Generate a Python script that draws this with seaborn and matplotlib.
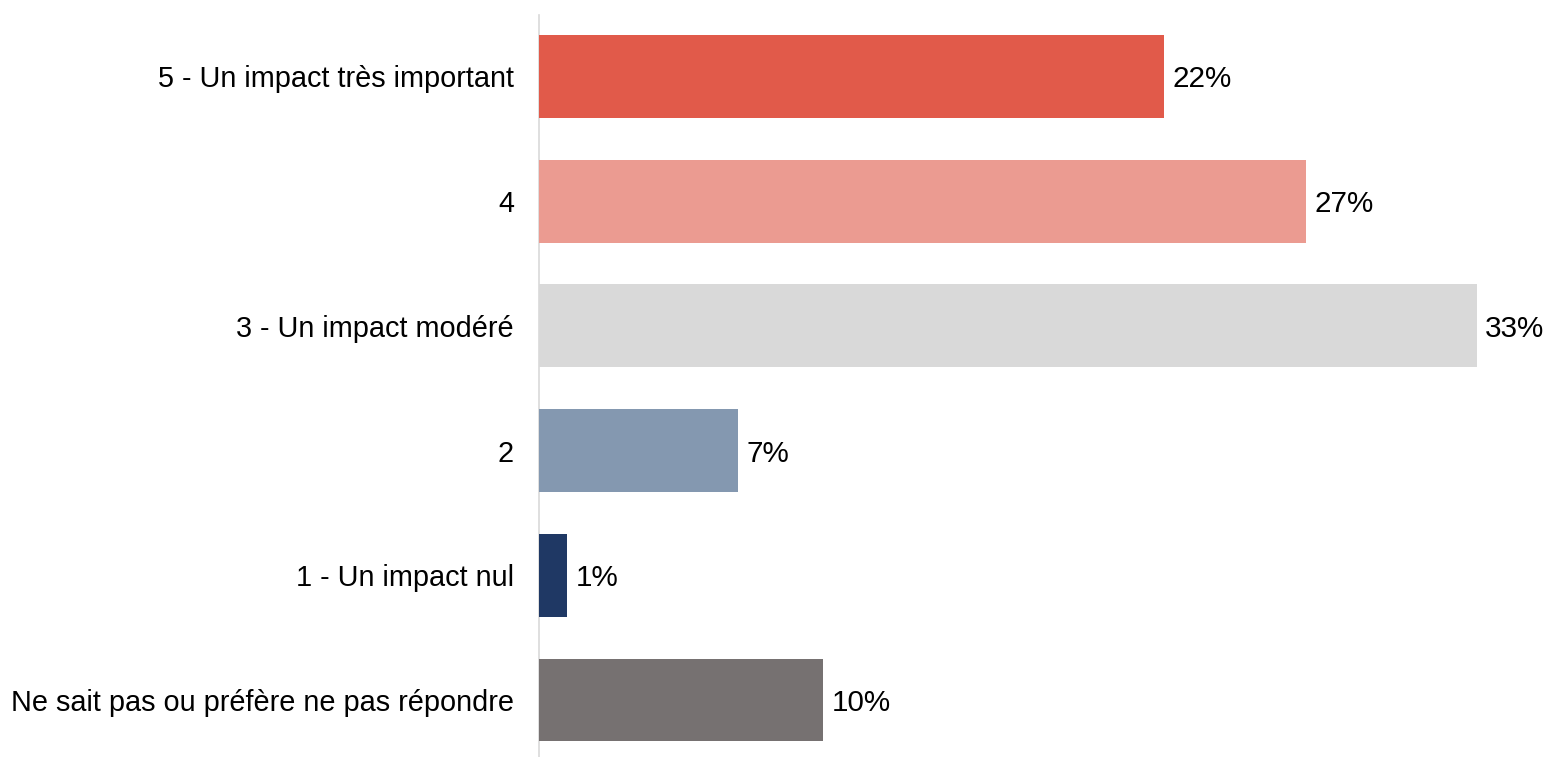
import matplotlib
matplotlib.use("Agg")
import matplotlib.pyplot as plt
import seaborn as sns
import pandas as pd

categories = [
    "5 - Un impact très important",
    "4",
    "3 - Un impact modéré",
    "2",
    "1 - Un impact nul",
    "Ne sait pas ou préfère ne pas répondre",
]
values = [22, 27, 33, 7, 1, 10]
colors = ["#E15A4A", "#EB9B91", "#D9D9D9", "#8498B0", "#1F3864", "#767171"]

df = pd.DataFrame({"categorie": categories, "pourcentage": values})

sns.set_theme(style="white")
plt.rcParams["font.family"] = ["Liberation Sans", "DejaVu Sans"]

fig = plt.figure(figsize=(15.47, 7.57), dpi=100)
ax = fig.add_axes([539 / 1547, 0.0, 966 / 1547, 742 / 757])

sns.barplot(
    data=df, x="pourcentage", y="categorie", hue="categorie",
    palette=colors, order=categories, hue_order=categories,
    width=0.665, legend=False, ax=ax, saturation=1, linewidth=0,
)

for i, v in enumerate(values):
    ax.text(v + 0.3, i, f"{v}%", va="center_baseline", ha="left",
            fontsize=21.3, color="#000000")

ax.set_xlim(0, 34)
ax.set_ylim(5.457, -0.493)
ax.set_xlabel("")
ax.set_ylabel("")
ax.set_xticks([])
ax.tick_params(axis="y", length=0, pad=18, labelsize=20.8, labelcolor="#000000")

for side in ["top", "right", "bottom"]:
    ax.spines[side].set_visible(False)
ax.spines["left"].set_color("#D9D9D9")
ax.spines["left"].set_linewidth(1.2)
ax.spines["left"].set_zorder(0)

fig.savefig("out.png", dpi=100, facecolor="white")
